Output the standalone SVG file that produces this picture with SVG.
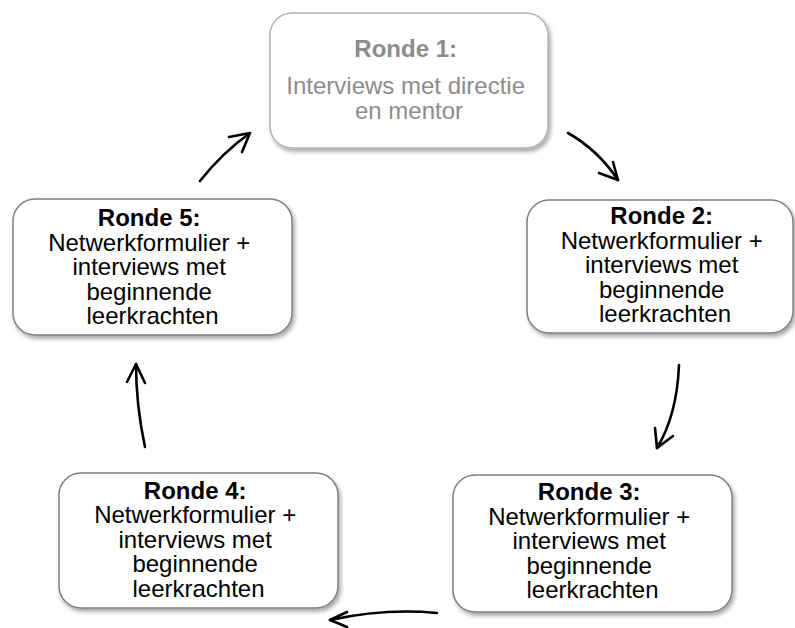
<svg xmlns="http://www.w3.org/2000/svg" width="795" height="628" viewBox="0 0 795 628">
  <defs>
    <filter id="shadow" x="-10%" y="-10%" width="125%" height="130%">
      <feDropShadow dx="2" dy="3" stdDeviation="2" flood-color="#000" flood-opacity="0.35"/>
    </filter>
  </defs>
  <style>
    .box { fill: #ffffff; stroke: #808080; stroke-width: 1.5; filter: url(#shadow); }
    .box.faded { stroke: #b4b4b4; }
    .label { font-family: "Liberation Sans", Arial, sans-serif; font-size: 24px; fill: #000; text-anchor: middle; }
    .label.faded { fill: #8c8c8c; }
    .title { font-weight: bold; }
    .arrow { fill: none; stroke: #000; stroke-width: 2.6; stroke-linecap: round; stroke-linejoin: round; }
  </style>
  <rect width="795" height="628" fill="#ffffff"/>

  <!-- round 1 -->
  <g id="ronde1">
    <rect class="box faded" x="270" y="13" width="278" height="135" rx="22"/>
    <text class="label faded" x="409">
      <tspan class="title" x="409" y="57">Ronde 1:</tspan>
      <tspan x="409" y="94">Interviews met directie</tspan>
      <tspan x="409" y="118.5">en mentor</tspan>
    </text>
  </g>

  <!-- round 2 -->
  <g id="ronde2">
    <rect class="box" x="527" y="200" width="266" height="133" rx="22"/>
    <text class="label">
      <tspan class="title" x="665" y="224">Ronde 2:</tspan>
      <tspan x="665" y="248.5">Netwerkformulier +</tspan>
      <tspan x="665" y="273">interviews met</tspan>
      <tspan x="665" y="297.5">beginnende</tspan>
      <tspan x="665" y="322">leerkrachten</tspan>
    </text>
  </g>

  <!-- round 3 -->
  <g id="ronde3">
    <rect class="box" x="453" y="475" width="279" height="137" rx="22"/>
    <text class="label">
      <tspan class="title" x="592.5" y="500">Ronde 3:</tspan>
      <tspan x="592.5" y="524.5">Netwerkformulier +</tspan>
      <tspan x="592.5" y="549">interviews met</tspan>
      <tspan x="592.5" y="573.5">beginnende</tspan>
      <tspan x="592.5" y="598">leerkrachten</tspan>
    </text>
  </g>

  <!-- round 4 -->
  <g id="ronde4">
    <rect class="box" x="59" y="473" width="279" height="135" rx="22"/>
    <text class="label">
      <tspan class="title" x="198.5" y="498.5">Ronde 4:</tspan>
      <tspan x="198.5" y="523">Netwerkformulier +</tspan>
      <tspan x="198.5" y="547.5">interviews met</tspan>
      <tspan x="198.5" y="572">beginnende</tspan>
      <tspan x="198.5" y="596.5">leerkrachten</tspan>
    </text>
  </g>

  <!-- round 5 -->
  <g id="ronde5">
    <rect class="box" x="13" y="199" width="279" height="136" rx="22"/>
    <text class="label">
      <tspan class="title" x="152.5" y="226">Ronde 5:</tspan>
      <tspan x="152.5" y="250.5">Netwerkformulier +</tspan>
      <tspan x="152.5" y="275">interviews met</tspan>
      <tspan x="152.5" y="299.5">beginnende</tspan>
      <tspan x="152.5" y="324">leerkrachten</tspan>
    </text>
  </g>

  <!-- hand-drawn cycle arrows -->
  <g id="connectors">
    <!-- 1 to 2 -->
    <path class="arrow" d="M568,133 Q598,150 618,180"/>
    <path class="arrow" d="M599,173 L618,180 L613,162"/>
    <!-- 2 to 3 -->
    <path class="arrow" d="M679,365 Q677,415 657,448"/>
    <path class="arrow" d="M655,428 L657,448 L673,436"/>
    <!-- 3 to 4 -->
    <path class="arrow" d="M437,613 Q385,608 330,620"/>
    <path class="arrow" d="M347,612 L330,620 L347,627"/>
    <!-- 4 to 5 -->
    <path class="arrow" d="M145,447 Q136,405 136,364"/>
    <path class="arrow" d="M127,382 L136,364 L145,383"/>
    <!-- 5 to 1 -->
    <path class="arrow" d="M200,181 Q222,153 250,133"/>
    <path class="arrow" d="M229,137 L250,133 L242,152"/>
  </g>
</svg>
